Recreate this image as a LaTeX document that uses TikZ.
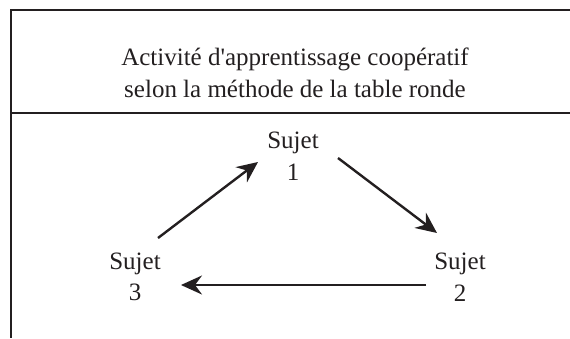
\documentclass[tikz,border=0pt]{standalone}
\usepackage{fontspec}
\setmainfont{Liberation Serif}
\usetikzlibrary{arrows.meta,calc}
\definecolor{ink}{HTML}{231F20}
\begin{document}
\begin{tikzpicture}[x=1pt,y=-1pt,
  frame/.style={draw=ink,line width=2.6pt},
  lbl/.style={font=\fontsize{25}{31.5}\selectfont,text=ink,align=center,inner sep=0pt},
  arr/.style={draw=ink,line width=2.4pt,-{Stealth[length=21pt,width=19pt,inset=7pt]}}]
\useasboundingbox (0,0) rectangle (570,338);
\coordinate (tl) at (11,10);
\coordinate (tr) at (570,10);
\coordinate (ml) at (11,113);
\coordinate (mr) at (570,113);
\coordinate (bl) at (11,338);
\draw[frame] (tr) -- (tl) -- (bl);
\draw[frame] (ml) -- (mr);
\node[lbl] (title) at (295,73) {Activité d\textquotesingle apprentissage coopératif\\selon la méthode de la table ronde};
\node[lbl] (s1) at (293,156) {Sujet\\1};
\node[lbl] (s2) at (460,277) {Sujet\\2};
\node[lbl] (s3) at (135,277) {Sujet\\3};
\draw[arr] ($(s3.center)+(23,-39)$) -- ($(s1.center)+(-35,6)$);
\draw[arr] ($(s1.center)+(45,2)$) -- ($(s2.center)+(-23,-44)$);
\draw[arr] ($(s2.center)+(-34,8)$) -- ($(s3.center)+(46,8)$);
\end{tikzpicture}
\end{document}
